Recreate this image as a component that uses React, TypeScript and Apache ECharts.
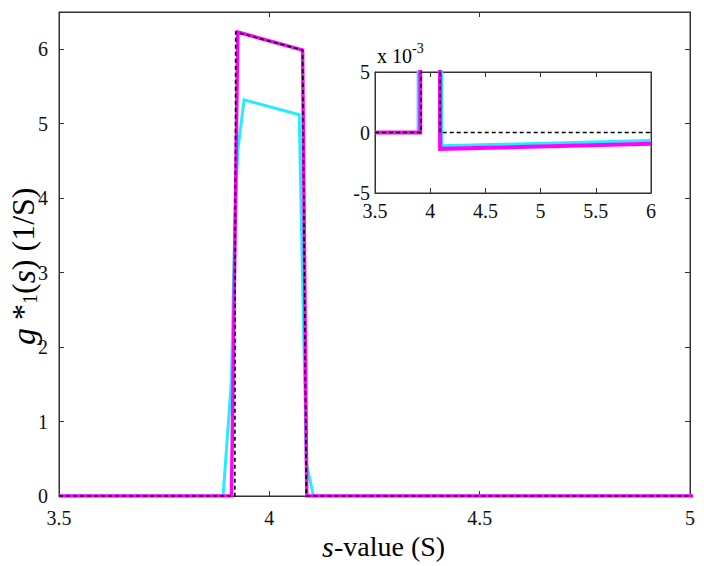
import React, { useEffect, useRef } from "react";
import * as echarts from "echarts";

// s-values and g*1(s) values for each curve
const cyanS = [3.5, 3.89, 3.91, 3.918, 3.925, 3.94, 4.071, 4.088, 4.105, 4.106, 6.0];
const cyanG = [0, 0, 1.56, 3.7, 4.64, 5.32, 5.12, 0.44, 0, -0.0011, -0.00066];

const magentaS = [3.5, 3.91, 3.925, 4.079, 4.089, 4.09, 6.0];
const magentaG = [0, 0, 6.23, 5.99, 0, -0.00135, -0.00093];

const blackS = [3.5, 3.918, 3.92, 4.079, 4.088, 6.0];
const blackG = [0, 0, 6.23, 5.99, 0, 0];

const mainXTicks = [3.5, 4, 4.5, 5];
const mainYTicks = [0, 1, 2, 3, 4, 5, 6];
const insetXTicks = [3.5, 4, 4.5, 5, 5.5, 6];
const insetYTicks = [-5, 0, 5];

const zip = (xs: number[], ys: number[]) => xs.map((x, i) => [x, ys[i]]);

const FONT = "Liberation Serif";

export default function App() {
  const ref = useRef<HTMLDivElement>(null);
  useEffect(() => {
    if (!ref.current) return;
    const chart = echarts.init(ref.current, undefined, { renderer: "svg" });
    const axisCommon = {
      axisLine: { show: true, onZero: false, lineStyle: { color: "#333", width: 1 } },
      axisTick: { show: true, inside: true, length: 5, lineStyle: { color: "#333" } },
      splitLine: { show: false },
    };
    const hiddenLabel = { show: false };

    const mk = (name: string, data: number[][], color: string, width: number, grid: number, dashed: boolean, z: number) => ({
      type: "line",
      name,
      data,
      xAxisIndex: grid === 0 ? 0 : 2,
      yAxisIndex: grid === 0 ? 0 : 2,
      showSymbol: false,
      symbol: "none",
      clip: true,
      z,
      lineStyle: { color, width, type: dashed ? [4, 3] : "solid", join: "miter" },
    });

    const cyan = zip(cyanS, cyanG);
    const magenta = zip(magentaS, magentaG);
    const black = zip(blackS, blackG);

    chart.setOption({
      animation: false,
      grid: [
        { left: 59, top: 12, width: 631, height: 484, show: true, borderColor: "#333", borderWidth: 1 },
        { left: 375, top: 72, width: 276, height: 121, show: true, borderColor: "#333", borderWidth: 1, backgroundColor: "#fff", z: 10 },
      ],
      xAxis: [
        {
          type: "value", gridIndex: 0, min: 3.5, max: 5, interval: 0.5, position: "bottom",
          ...axisCommon,
          axisLabel: {
            margin: 12, fontFamily: "serif", fontSize: 20, color: "#111",
            formatter: (v: number) => (mainXTicks.includes(v) ? String(v) : ""),
          },
        },
        {
          type: "value", gridIndex: 0, min: 3.5, max: 5, interval: 0.5, position: "top",
          ...axisCommon, axisLabel: hiddenLabel,
        },
        {
          type: "value", gridIndex: 1, min: 3.5, max: 6, interval: 0.5, position: "bottom", z: 12,
          ...axisCommon,
          axisLabel: {
            margin: 8, fontFamily: "Times New Roman", fontSize: 20, color: "#111",
            formatter: (v: number) => (insetXTicks.includes(v) ? String(v) : ""),
          },
        },
        {
          type: "value", gridIndex: 1, min: 3.5, max: 6, interval: 0.5, position: "top", z: 12,
          ...axisCommon, axisLabel: hiddenLabel,
        },
      ],
      yAxis: [
        {
          type: "value", gridIndex: 0, min: 0, max: 6.5, interval: 1, position: "left",
          ...axisCommon,
          axisLabel: {
            margin: 11,
            textStyle: { fontFamily: FONT, fontSize: 20, color: "#111" },
            formatter: (v: number) => (mainYTicks.includes(v) ? String(v) : ""),
          },
        },
        {
          type: "value", gridIndex: 0, min: 0, max: 6.5, interval: 1, position: "right",
          ...axisCommon, axisLabel: hiddenLabel,
        },
        {
          type: "value", gridIndex: 1, min: -0.005, max: 0.005, interval: 0.005, position: "left", z: 12,
          ...axisCommon,
          axisLabel: {
            margin: 5, fontFamily: FONT, fontSize: 20, color: "#111",
            formatter: (v: number) => {
              const k = Math.round(v * 1000);
              return insetYTicks.includes(k) ? String(k) : "";
            },
          },
        },
        {
          type: "value", gridIndex: 1, min: -0.005, max: 0.005, interval: 0.005, position: "right", z: 12,
          ...axisCommon, axisLabel: hiddenLabel,
        },
      ],
      series: [
        mk("cyan", cyan, "#22eeff", 3, 0, false, 2),
        mk("magenta", magenta, "#ff00ff", 3.5, 0, false, 3),
        mk("black", black, "#000", 1.6, 0, true, 4),
        mk("cyan-inset", cyan, "#22eeff", 3, 1, false, 12),
        mk("magenta-inset", magenta, "#ff00ff", 4, 1, false, 13),
        mk("black-inset", black, "#000", 1.6, 1, true, 14),
      ],
      graphic: [
        {
          type: "text",
          x: 6,
          y: 345,
          rotation: Math.PI / 2,
          style: {
            text: "{i|g} {m|*}{sub|1}{m|(}{i|s}{m|) (1/S)}",
            fontFamily: FONT,
            fontSize: 32,
            fill: "#000",
            rich: {
              i: { fontFamily: FONT, fontSize: 34, fontStyle: "italic", fill: "#000" },
              m: { fontFamily: FONT, fontSize: 32, fill: "#000" },
              sub: { fontFamily: FONT, fontSize: 20, fill: "#000", padding: [14, 0, 0, 0] },
            },
          },
        },
        {
          type: "text",
          x: 322,
          y: 531,
          style: { text: "s", fontFamily: FONT, fontStyle: "italic", fontSize: 30, fill: "#000" },
        },
        {
          type: "text",
          x: 334,
          y: 532,
          style: { text: "-value (S)", fontFamily: FONT, fontSize: 28, fill: "#000" },
        },
        {
          type: "text",
          x: 377,
          y: 46,
          z: 20,
          style: { text: "x 10", fontFamily: FONT, fontSize: 20, fill: "#000" },
        },
        {
          type: "text",
          x: 412,
          y: 41,
          z: 20,
          style: { text: "-3", fontFamily: FONT, fontSize: 14, fill: "#000" },
        },
      ],
    });
    return () => chart.dispose();
  }, []);
  return (
    <div
      ref={ref}
      style={{ position: "absolute", left: 0, top: 0, width: 704, height: 566, background: "#fff" }}
    />
  );
}
